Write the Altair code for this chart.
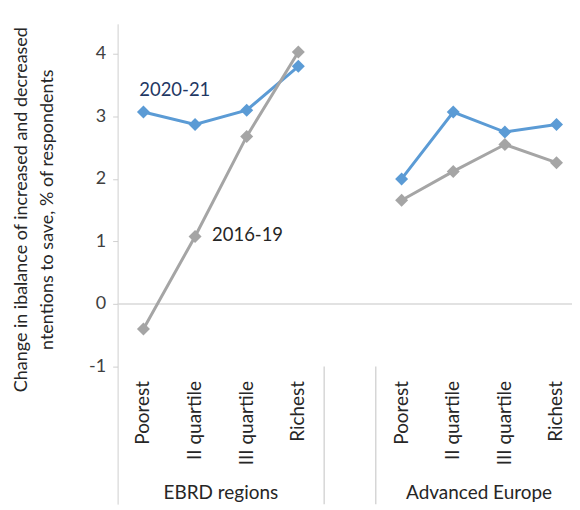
import altair as alt
import pandas as pd

quartiles = ["Poorest", "II quartile", "III quartile", "Richest"]
groups = ["EBRD regions", "Advanced Europe"]
series = ["2020-21", "2016-19"]
ebrd_2020 = [3.07, 2.87, 3.10, 3.80]
ebrd_2016 = [-0.40, 1.08, 2.68, 4.03]
adv_2020 = [2.00, 3.07, 2.75, 2.87]
adv_2016 = [1.66, 2.12, 2.55, 2.26]
colors = ["#5B9BD5", "#A5A5A5"]
label_colors = ["#1F3864", "#262626"]
y_ticks = [-1, 0, 1, 2, 3, 4]

FONT = "Lato"
YMIN, YMAX = -3.2, 4.48
XMIN, XMAX = -0.5, 8.3
W, H = 456, 482

group_values = {groups[0]: [ebrd_2020, ebrd_2016], groups[1]: [adv_2020, adv_2016]}
rows = []
for gi, g in enumerate(groups):
    for si, s in enumerate(series):
        for qi, q in enumerate(quartiles):
            rows.append(dict(group=g, series=s, quartile=q, pos=gi * 5 + qi,
                             value=group_values[g][si][qi], key=g + s))
df = pd.DataFrame(rows)

cat_df = pd.DataFrame([dict(pos=gi * 5 + qi, value=-1.23, label=q)
                       for gi in range(2) for qi, q in enumerate(quartiles)])
grp_df = pd.DataFrame([dict(pos=gi * 5 + 1.5, value=-3.02, label=g) for gi, g in enumerate(groups)])
sep_df = pd.DataFrame(dict(pos=[3.5, 4.5], value=[-1, -1], value2=[YMIN, YMIN]))
ser_df = pd.DataFrame(dict(pos=[-0.08, 1.33], value=[3.42, 1.11], label=series))

xs = alt.Scale(domain=[XMIN, XMAX], nice=False, zero=False)
ys = alt.Scale(domain=[YMIN, YMAX], nice=False, zero=False)
X = alt.X("pos:Q", scale=xs, axis=None)

yaxis = alt.Axis(
    values=y_ticks, grid=False, domainColor="#D0D0D0", tickColor="#D0D0D0",
    tickSize=5, labelFontSize=18, labelColor="#404040", labelFont=FONT, labelPadding=7,
    labelExpr="'' + datum.value",
    title=["Change in ibalance of increased and decreased",
           "ntentions to save, % of respondents"],
    titleFont=FONT, titleFontSize=18, titleFontWeight="normal", titleColor="#262626",
    titleAngle=270, titleAlign="center", titleBaseline="top", titleLineHeight=26,
    titleX=-105, titleY=186,
)

zero = alt.Chart(pd.DataFrame(dict(value=[0]))).mark_rule(color="#D9D9D9", strokeWidth=1.3).encode(
    y=alt.Y("value:Q", scale=ys, axis=yaxis), x=alt.value(0), x2=alt.value(W))

seps = alt.Chart(sep_df).mark_rule(color="#D0D0D0", strokeWidth=1.3).encode(
    x=X, y=alt.Y("value:Q", scale=ys), y2="value2:Q")

color = alt.Color("series:N", scale=alt.Scale(domain=series, range=colors), legend=None)

lines = alt.Chart(df).mark_line(strokeWidth=3).encode(
    x=X, y=alt.Y("value:Q", scale=ys), color=color, detail="key:N", order="pos:Q")
points = alt.Chart(df).mark_point(shape="diamond", filled=True, size=170, opacity=1).encode(
    x=X, y=alt.Y("value:Q", scale=ys), color=color)

cats = alt.Chart(cat_df).mark_text(angle=270, align="right", baseline="middle",
                                   fontSize=19, font=FONT, color="#262626").encode(
    x=X, y=alt.Y("value:Q", scale=ys), text="label:N")
grps = alt.Chart(grp_df).mark_text(align="center", baseline="middle",
                                   fontSize=19, font=FONT, color="#262626").encode(
    x=X, y=alt.Y("value:Q", scale=ys), text="label:N")
sers = alt.Chart(ser_df).mark_text(align="left", baseline="middle", fontSize=18.5, font=FONT).encode(
    x=X, y=alt.Y("value:Q", scale=ys), text="label:N",
    color=alt.Color("label:N", scale=alt.Scale(domain=series, range=label_colors), legend=None))

chart = alt.layer(zero, seps, lines, points, cats, grps, sers).resolve_scale(color="independent").properties(
    width=W, height=H,
    autosize=alt.AutoSizeParams(type="none"),
    padding={"left": 110, "top": 15, "right": 0, "bottom": 4},
).configure_view(stroke=None)

chart.save("out.html", embed_options={"renderer": "svg", "actions": False})
